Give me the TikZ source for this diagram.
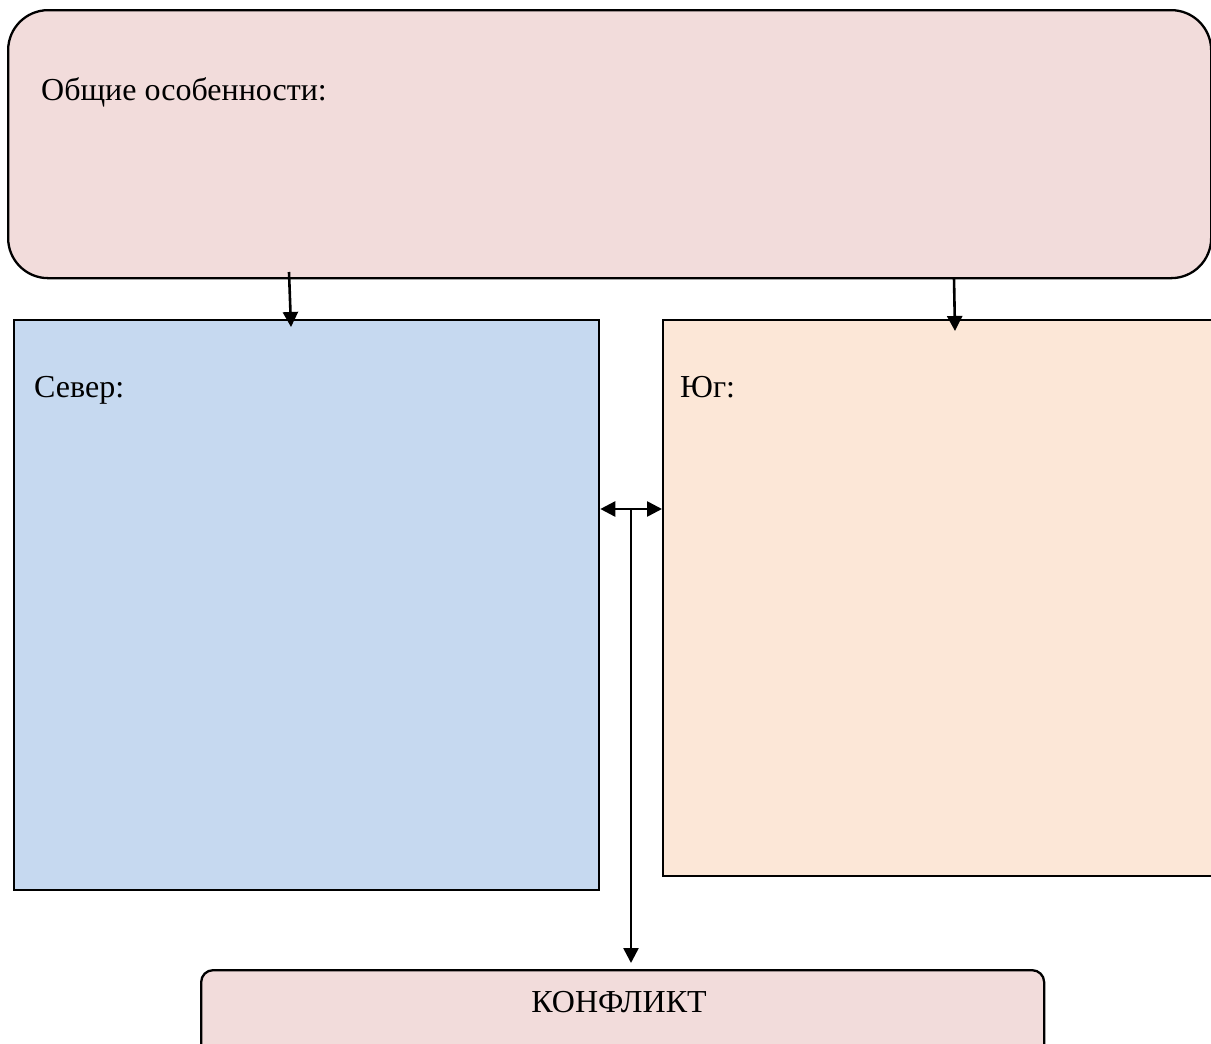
\documentclass[tikz,border=0pt]{standalone}
\usepackage{fontspec}
\setmainfont{Liberation Serif}
\usetikzlibrary{arrows.meta,calc}
\definecolor{pinkbg}{HTML}{F2DCDB}
\definecolor{bluebg}{HTML}{C6D9F0}
\definecolor{orangebg}{HTML}{FCE7D7}
\begin{document}
\begin{tikzpicture}[x=1pt,y=-1pt,
  box/.style={draw=black,line width=2.3pt,inner sep=0pt,anchor=north west},
  lbl/.style={font=\fontsize{32}{36}\selectfont,anchor=base west,inner sep=0pt},
  arr/.style={line width=2.6pt,-{Triangle[width=15pt,length=15pt]}},
  darr/.style={line width=2.6pt,{Triangle[width=15pt,length=15pt]}-{Triangle[width=15pt,length=15pt]}}]
\useasboundingbox (0,0) rectangle (1211,1044);
\node[box,fill=pinkbg,rounded corners=40pt,minimum width=1203pt,minimum height=268pt] (top) at (7,9) {};
\node[box,fill=bluebg,minimum width=585pt,minimum height=570pt] (north) at (13,319) {};
\node[box,fill=orangebg,minimum width=560pt,minimum height=556pt] (south) at (662,319) {};
\node[box,fill=pinkbg,rounded corners=12pt,minimum width=843pt,minimum height=90pt] (conf) at (200,969) {};
\node[lbl] (t1) at (41,100) {Общие особенности:};
\node[lbl] (t2) at (34,397) {Север:};
\node[lbl] (t3) at (680,397) {Юг:};
\node[font=\fontsize{32}{36}\selectfont,anchor=base,inner sep=0pt] (t4) at (619,1012) {КОНФЛИКТ};
\coordinate (a1) at (289,272);
\coordinate (b1) at (291,327);
\coordinate (a2) at (954,278);
\coordinate (b2) at (955,331);
\draw[arr] (a1) -- (b1);
\draw[arr] (a2) -- (b2);
\coordinate (m) at (631,509);
\draw[darr] (north.east |- m) -- (south.west |- m);
\draw[arr] (m) -- (m |- 0,963);
\end{tikzpicture}
\end{document}
